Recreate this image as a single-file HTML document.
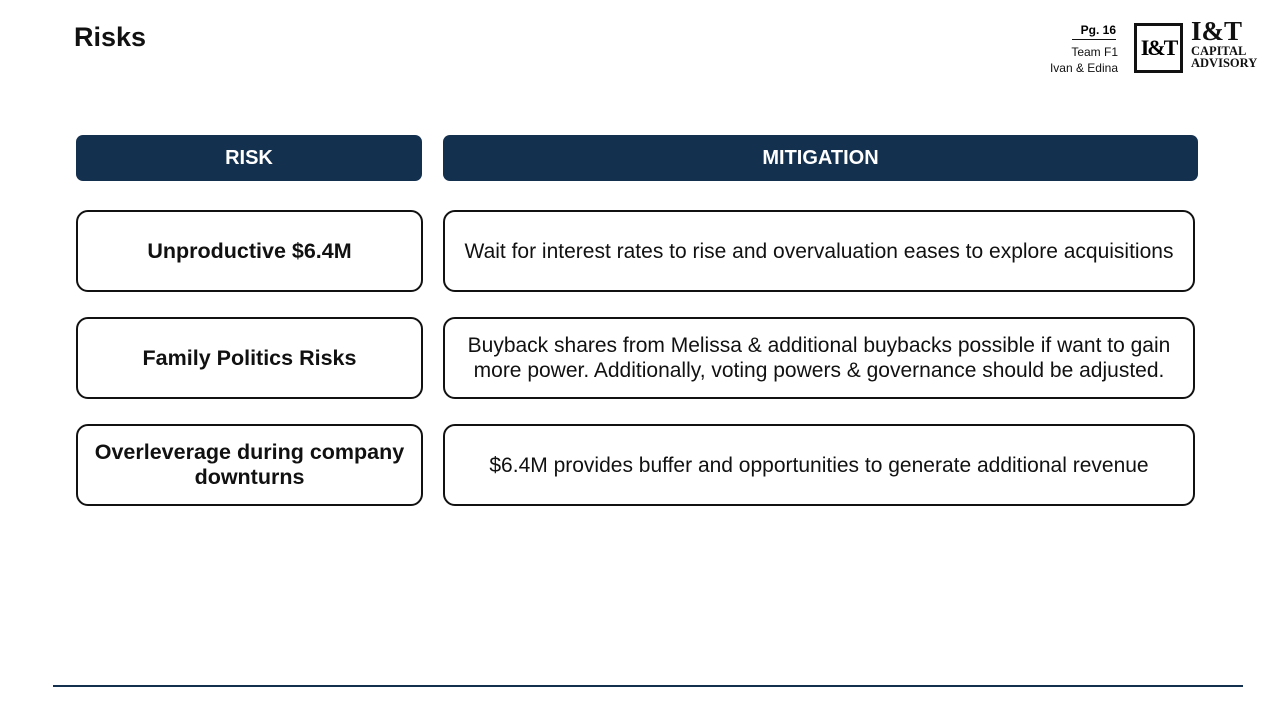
<!DOCTYPE html>
<html><head><meta charset="utf-8"><style>
body{margin:0;width:1280px;height:720px;background:#fff;position:relative;font-family:"Liberation Sans",sans-serif;overflow:hidden}
.a{position:absolute;box-sizing:border-box}
.hdr{background:#14304f;color:#fff;font-weight:bold;font-size:20px;display:flex;align-items:center;justify-content:center;border-radius:7px}
.box{border:2px solid #111;border-radius:12px;display:flex;align-items:center;justify-content:center;text-align:center;color:#111;font-size:21px;line-height:25px}
.l{font-weight:bold;font-size:21.5px}
</style></head><body>
<div class="a" style="left:74px;top:22px;font-size:27px;font-weight:bold;color:#111">Risks</div>
<div class="a" style="left:1072px;top:23px;width:44px;text-align:right;font-size:12px;font-weight:bold;border-bottom:1px solid #111;padding-bottom:2px">Pg. 16</div>
<div class="a" style="left:1030px;top:44px;width:88px;text-align:right;font-size:12px;line-height:16px;color:#111">Team F1<br>Ivan &amp; Edina</div>
<div class="a" style="left:1134px;top:23px;width:49px;height:50px;border:3px solid #111;font-family:'Liberation Serif',serif;font-weight:bold;font-size:22px;letter-spacing:-2px;display:flex;align-items:center;justify-content:center">I&amp;T</div>
<div class="a" style="left:1191px;top:18px;font-family:'Liberation Serif',serif;font-weight:bold;color:#111;line-height:12px">
<div style="font-size:27px;line-height:27px">I&amp;T</div><div style="font-size:12.5px">CAPITAL</div><div style="font-size:12.5px">ADVISORY</div></div>
<div class="a hdr" style="left:76px;top:135px;width:346px;height:46px">RISK</div>
<div class="a hdr" style="left:443px;top:135px;width:755px;height:46px">MITIGATION</div>
<div class="a box l" style="left:76px;top:210px;width:347px;height:82px">Unproductive $6.4M</div>
<div class="a box" style="left:443px;top:210px;width:752px;height:82px">Wait for interest rates to rise and overvaluation eases to explore acquisitions</div>
<div class="a box l" style="left:76px;top:317px;width:347px;height:82px">Family Politics Risks</div>
<div class="a box" style="left:443px;top:317px;width:752px;height:82px;padding:0 8px">Buyback shares from Melissa &amp; additional buybacks possible if want to gain more power. Additionally, voting powers &amp; governance should be adjusted.</div>
<div class="a box l" style="left:76px;top:424px;width:347px;height:82px;padding:0 12px">Overleverage during company downturns</div>
<div class="a box" style="left:443px;top:424px;width:752px;height:82px">$6.4M provides buffer and opportunities to generate additional revenue</div>
<div class="a" style="left:53px;top:685px;width:1190px;height:2px;background:#14304f"></div>
</body></html>
